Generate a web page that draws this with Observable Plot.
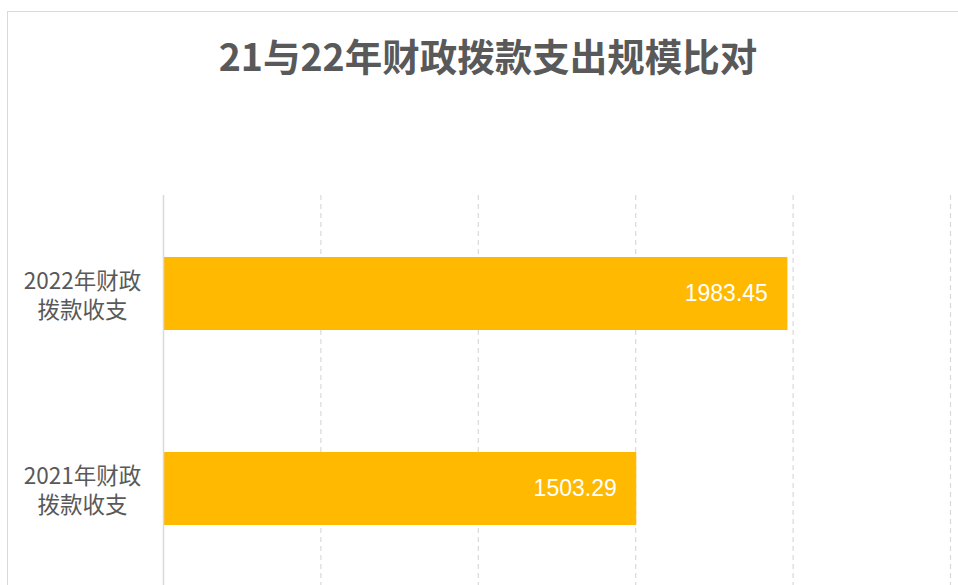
<!DOCTYPE html>
<html>
<head>
<meta charset="utf-8">
<script src="https://cdn.jsdelivr.net/npm/d3@7"></script>
<script src="https://cdn.jsdelivr.net/npm/@observablehq/plot@0.6"></script>
<style>
  html, body { margin: 0; padding: 0; background: #fff; overflow: hidden; width: 958px; height: 585px; }
  #frame { position: absolute; left: 7px; top: 11px; width: 1000px; height: 700px; border: 1.5px solid #d9d9d9; box-sizing: border-box; }
  #title { position: absolute; left: 8px; width: 960px; top: 28px; text-align: center;
           font-family: "Noto Sans CJK SC", sans-serif; font-weight: bold; font-size: 37.5px; color: #595959; line-height: 54px; }
  #chart { position: absolute; left: 0; top: 0; }
</style>
</head>
<body>
<div id="frame"></div>
<div id="title">21与22年财政拨款支出规模比对</div>
<div id="chart"></div>
<script>
const categories = ["2022年财政拨款收支", "2021年财政拨款收支"];
const labelLines = ["2022年财政\n拨款收支", "2021年财政\n拨款收支"];
const values = [1983.45, 1503.29];
const valueLabels = ["1983.45", "1503.29"];
const gridTicks = [500, 1000, 1500, 2000, 2500];

const data = categories.map((c, i) => ({cat: c, label: labelLines[i], value: values[i], vlabel: valueLabels[i]}));

const chart = Plot.plot({
  width: 958,
  height: 620,
  marginLeft: 163,
  marginRight: 8,
  marginTop: 195,
  marginBottom: 34,
  x: {domain: [0, 2500], axis: null},
  y: {domain: categories, axis: null, paddingInner: 0.627, paddingOuter: 0.3135},
  style: {background: "transparent"},
  marks: [
    Plot.ruleX(gridTicks, {stroke: "#d9d9d9", strokeWidth: 1.2, strokeDasharray: "5,4"}),
    Plot.barX(data, {y: "cat", x: "value", fill: "#FFB900"}),
    Plot.ruleX([0], {stroke: "#d9d9d9", strokeWidth: 1.5}),
    Plot.text(data, {y: "cat", x: "value", text: "vlabel", textAnchor: "end", dx: -20,
      fill: "#ffffff", fontSize: 23, fontFamily: "Liberation Sans, Arial, sans-serif"}),
    Plot.text(data, {y: "cat", text: "label", frameAnchor: "left", dx: -81, textAnchor: "middle",
      lineHeight: 1.3, fill: "#595959", fontSize: 22.5, fontFamily: "Noto Sans CJK SC, sans-serif"})
  ]
});
document.getElementById("chart").appendChild(chart);
</script>
</body>
</html>
